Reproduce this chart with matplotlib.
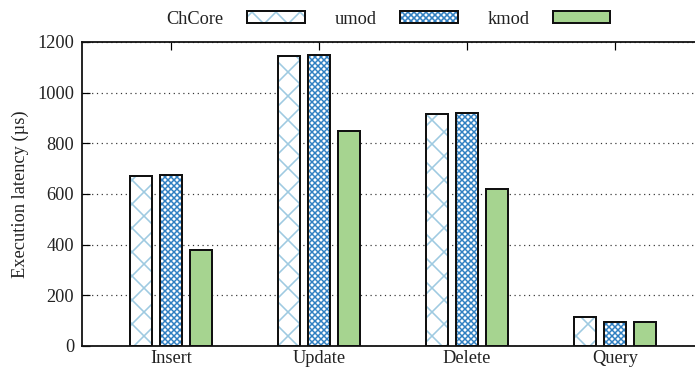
import numpy as np
import matplotlib.pyplot as plt
from matplotlib.patches import Patch

plt.rcParams['font.family'] = ['Liberation Serif', 'DejaVu Serif']

ops = ['Insert', 'Update', 'Delete', 'Query']
series = ['ChCore', 'umod', 'kmod']
chcore = [672, 1146, 914, 113]
umod = [675, 1148, 919, 93]
kmod = [378, 849, 619, 93]

values = [chcore, umod, kmod]
hatch_col = ['#9ecae1', '#2f7fc1', '#222222']
hatch_lw = [0.8, 0.75, 0.8]
fills = ['white', 'white', '#a6d490']
hatches = ['xx', 'xxxxxxxx', None]
fs = 9.2

# drawn at 144 dpi so hatch spacing comes out right
fig = plt.figure(figsize=(695/144, 367/144), dpi=144)
ax = fig.add_axes([82/695, 1-346/367, 1-82/695, (346-42)/367])

x = np.arange(len(ops))
step = 0.203
width = 0.152
handles = []
for i, (name, vals) in enumerate(zip(series, values)):
    plt.rcParams['hatch.linewidth'] = hatch_lw[i]
    pos = x + (i-1)*step
    if hatches[i]:
        ax.bar(pos, vals, width, color=fills[i], edgecolor=hatch_col[i],
               hatch=hatches[i], linewidth=0, zorder=2)
    else:
        ax.bar(pos, vals, width, color=fills[i], linewidth=0, zorder=2)
    ax.bar(pos, vals, width, facecolor='none', edgecolor='#111111',
           linewidth=1.0, zorder=3)
    h1 = Patch(facecolor=fills[i], edgecolor=hatch_col[i], hatch=hatches[i], linewidth=0)
    h2 = Patch(facecolor='none', edgecolor='#111111', linewidth=1.0)
    handles.append((h1, h2))

ax.set_xlim(-0.601, 3.54)
ax.set_ylim(0, 1200)
ax.set_yticks(np.arange(0, 1201, 200))
ax.set_xticks(x)
ax.set_xticklabels(ops)
ax.set_ylabel('Execution latency (µs)', fontsize=fs, color='#222222', labelpad=4)

ax.yaxis.grid(True, linestyle=(0, (1, 3)), color='#333333', linewidth=0.6, zorder=1)
ax.set_axisbelow(True)
ax.spines['right'].set_visible(False)
for s in ['left', 'top', 'bottom']:
    ax.spines[s].set_linewidth(0.9)
    ax.spines[s].set_color('#111111')
ax.tick_params(axis='both', direction='in', length=4, width=0.6, labelsize=fs,
               labelcolor='#222222', pad=4)
ax.tick_params(axis='x', top=True, pad=2)

fig.legend(handles, series, loc='center', bbox_to_anchor=(0.559, 0.948),
           ncol=3, frameon=False, markerfirst=False, fontsize=fs,
           handlelength=3.15, handleheight=0.6, handletextpad=1.25,
           columnspacing=1.63, labelcolor='#222222')

fig.savefig('out.png', dpi=144)
